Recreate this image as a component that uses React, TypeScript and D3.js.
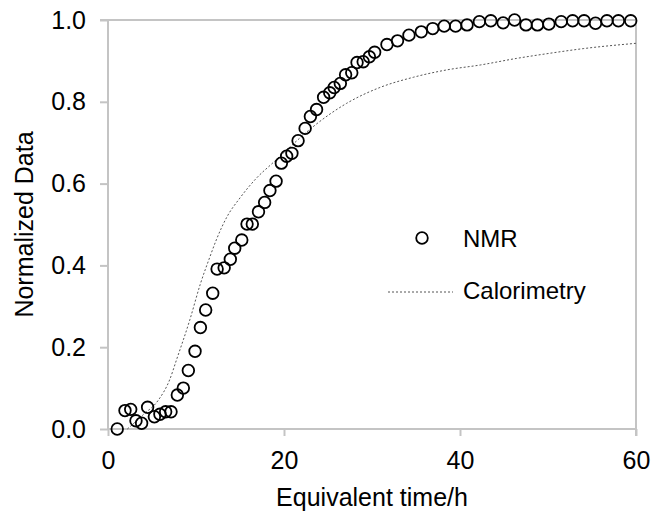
import * as d3 from "d3";
import { useEffect, useRef } from "react";

// NMR points (time in h, normalized value)
const nmrTime = [
  1.05, 1.93, 2.58, 3.18, 3.82, 4.5, 5.27, 5.9, 6.55, 7.16, 7.88, 8.56, 9.13, 9.89,
  10.5, 11.1, 11.9, 12.4, 13.2, 13.9, 14.4, 15.2, 15.8, 16.4, 17.1, 17.8, 18.4, 19.1,
  19.7, 20.3, 20.9, 21.6, 22.4, 23.0, 23.7, 24.5, 25.2, 25.7, 26.4, 27.0, 27.7, 28.3,
  29.0, 29.7, 30.3, 31.7, 32.9, 34.2, 35.6, 36.9, 38.2, 39.5, 40.8, 42.2, 43.5, 44.9,
  46.2, 47.5, 48.8, 50.1, 51.5, 52.8, 54.1, 55.4, 56.7, 58.0, 59.4,
];
const nmrValue = [
  0.0, 0.045, 0.048, 0.02, 0.014, 0.053, 0.03, 0.036, 0.042, 0.042, 0.083, 0.1, 0.143, 0.19,
  0.248, 0.291, 0.332, 0.391, 0.394, 0.415, 0.442, 0.462, 0.501, 0.501, 0.531, 0.554, 0.583, 0.606,
  0.65, 0.667, 0.674, 0.705, 0.735, 0.764, 0.781, 0.811, 0.822, 0.835, 0.845, 0.866, 0.871, 0.896,
  0.898, 0.91, 0.921, 0.94, 0.949, 0.963, 0.971, 0.979, 0.985, 0.985, 0.988, 0.996, 0.998, 0.993,
  1.0, 0.988, 0.988, 0.99, 0.996, 0.998, 0.998, 0.992, 0.998, 0.998, 0.998,
];

// Calorimetry curve
const calTime = [2.2, 4, 5.7, 7, 7.8, 9.3, 10.5, 11.6, 12.3, 13.5, 15, 16.9, 18.8, 20.7, 23.3, 27.1, 30.9, 34.7, 38.5, 42.3, 46.4, 50, 54, 60];
const calValue = [0, 0.035, 0.07, 0.12, 0.17, 0.267, 0.355, 0.422, 0.462, 0.518, 0.565, 0.614, 0.652, 0.69, 0.739, 0.796, 0.835, 0.86, 0.878, 0.89, 0.906, 0.918, 0.93, 0.943];

const xTicks = [0, 20, 40, 60];
const yTicks = [0, 0.2, 0.4, 0.6, 0.8, 1.0];

const App = () => {
  const ref = useRef<SVGSVGElement>(null);
  const width = 652;
  const height = 512;
  const margin = { top: 20, right: 16, bottom: 83, left: 108 };
  const font = "'Liberation Sans', Arial, sans-serif";

  useEffect(() => {
    const svg = d3.select(ref.current);
    svg.selectAll("*").remove();

    const x = d3.scaleLinear().domain([0, 60]).range([margin.left, width - margin.right]);
    const y = d3.scaleLinear().domain([0, 1]).range([height - margin.bottom, margin.top]);
    const grid = "#c4c4c4";

    // frame (top and right)
    svg.append("line").attr("x1", x(0) - 8).attr("x2", x(60)).attr("y1", y(1)).attr("y2", y(1))
      .attr("stroke", grid).attr("stroke-width", 2);
    svg.append("line").attr("x1", x(60)).attr("x2", x(60)).attr("y1", y(1)).attr("y2", y(0) + 7)
      .attr("stroke", grid).attr("stroke-width", 2);

    const xAxis = d3.axisBottom(x).tickValues(xTicks).tickSize(7).tickPadding(15).tickFormat(d3.format("d"));
    const gx = svg.append("g").attr("transform", `translate(0,${y(0)})`).call(xAxis);
    const yAxis = d3.axisLeft(y).tickValues(yTicks).tickSize(8).tickPadding(14).tickFormat(d3.format(".1f"));
    const gy = svg.append("g").attr("transform", `translate(${x(0)},0)`).call(yAxis);

    [gx, gy].forEach((g) => {
      g.select(".domain").attr("stroke", grid).attr("stroke-width", 2);
      g.selectAll(".tick line").attr("stroke", grid).attr("stroke-width", 2);
      g.selectAll(".tick text").attr("fill", "#000").style("font-family", font).style("font-size", "25px");
    });
    gx.select(".domain").attr("d", `M${x(0)},0H${x(60)}`);
    gy.select(".domain").attr("d", `M0,${y(0)}V${y(1)}`);

    // calorimetry
    const line = d3.line<number>()
      .x((d, i) => x(calTime[i]))
      .y((d) => y(d))
      .curve(d3.curveMonotoneX);
    svg.append("path").datum(calValue).attr("d", line).attr("fill", "none")
      .attr("stroke", "#555").attr("stroke-width", 1).attr("stroke-dasharray", "2,2");

    // NMR
    svg.append("g").selectAll("circle").data(nmrValue).enter().append("circle")
      .attr("cx", (d, i) => x(nmrTime[i]))
      .attr("cy", (d) => y(d))
      .attr("r", 5.8)
      .attr("fill", "none")
      .attr("stroke", "#000")
      .attr("stroke-width", 1.8);

    // legend
    const lg = svg.append("g").style("font-family", font).style("font-size", "24px");
    lg.append("circle").attr("cx", 422).attr("cy", 238).attr("r", 5.8)
      .attr("fill", "none").attr("stroke", "#000").attr("stroke-width", 1.8);
    lg.append("text").attr("x", 463).attr("y", 247).text("NMR");
    lg.append("line").attr("x1", 388).attr("x2", 453).attr("y1", 292).attr("y2", 292)
      .attr("stroke", "#555").attr("stroke-width", 1).attr("stroke-dasharray", "2,2");
    lg.append("text").attr("x", 463).attr("y", 299).text("Calorimetry");

    // axis titles
    svg.append("text").attr("x", (x(0) + x(60)) / 2).attr("y", 506).attr("text-anchor", "middle")
      .style("font-family", font).style("font-size", "25px").text("Equivalent time/h");
    svg.append("text").attr("transform", `translate(33,${(y(0) + y(1)) / 2}) rotate(-90)`)
      .attr("text-anchor", "middle")
      .style("font-family", font).style("font-size", "25px").text("Normalized Data");
  }, []);

  return <svg ref={ref} width={width} height={height} style={{ position: "absolute", left: 0, top: 0 }}></svg>;
};

export default App;
